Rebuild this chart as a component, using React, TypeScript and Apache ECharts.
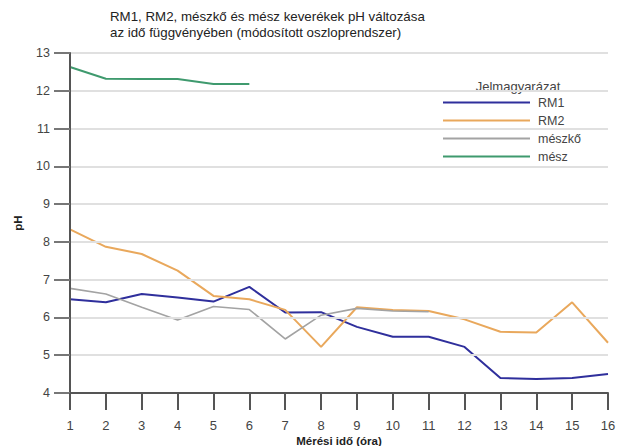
import React, { useEffect, useRef } from "react";
import * as echarts from "echarts";

const hours = ["1", "2", "3", "4", "5", "6", "7", "8", "9", "10", "11", "12", "13", "14", "15", "16"];
const phTicks = [4, 5, 6, 7, 8, 9, 10, 11, 12, 13];
const rm1 = [6.48, 6.4, 6.62, 6.53, 6.42, 6.81, 6.13, 6.14, 5.75, 5.49, 5.49, 5.22, 4.4, 4.37, 4.4, 4.5];
const rm2 = [8.33, 7.87, 7.68, 7.24, 6.57, 6.48, 6.2, 5.22, 6.27, 6.2, 6.17, 5.95, 5.62, 5.6, 6.4, 5.33];
const meszko = [6.77, 6.62, 6.27, 5.93, 6.29, 6.21, 5.43, 6.06, 6.24, 6.17, 6.15];
const mesz = [12.63, 12.32, 12.31, 12.31, 12.18, 12.18];
const titleLines = [
  "RM1, RM2, mészkő és mész keverékek pH változása",
  "az idő függvényében (módosított oszloprendszer)",
];

const FONT = "'Liberation Sans', Arial, sans-serif";
const Y_MIN = phTicks[0];
const Y_MAX = phTicks[phTicks.length - 1];

export default function App() {
  const ref = useRef<HTMLDivElement>(null);
  useEffect(() => {
    const chart = echarts.init(ref.current!, null, { renderer: "svg" });
    const mk = (name: string, data: number[], color: string, width: number) => ({
      name,
      type: "line",
      data,
      symbol: "none",
      showSymbol: false,
      lineStyle: { color, width },
      itemStyle: { color },
      z: 3,
    });
    chart.setOption({
      animation: false,
      backgroundColor: "#ffffff",
      textStyle: { fontFamily: FONT },
      graphic: [
        {
          type: "text",
          left: 110,
          top: 8,
          style: {
            text: titleLines.join("\n"),
            fontFamily: FONT,
            fontSize: 13.3,
            lineHeight: 16,
            fill: "#222",
          },
        },
        {
          type: "text",
          x: 518,
          y: 86,
          style: {
            text: "Jelmagyarázat",
            fontFamily: FONT,
            fontSize: 13,
            fill: "#444",
            align: "center",
            verticalAlign: "middle",
          },
        },
      ],
      legend: {
        orient: "vertical",
        left: 443,
        top: 96,
        padding: 0,
        icon: "rect",
        itemWidth: 87,
        itemHeight: 2,
        itemGap: 5,
        textStyle: { fontFamily: FONT, fontSize: 12.5, color: "#444", padding: [0, 0, 0, 3] },
        data: ["RM1", "RM2", "mészkő", "mész"],
      },
      grid: { left: 70, right: 9, top: 53, bottom: 53, containLabel: false, outerBoundsMode: "none" },
      xAxis: {
        type: "category",
        data: hours,
        boundaryGap: false,
        name: "Mérési idő (óra)",
        nameLocation: "middle",
        nameGap: 42,
        nameMoveOverlap: false,
        nameTextStyle: { fontFamily: FONT, fontSize: 11.5, fontWeight: "bold", color: "#222" },
        axisLine: { show: true, lineStyle: { color: "#555", width: 2 } },
        axisTick: { show: true, interval: 0, inside: false, length: 17, lineStyle: { color: "#555", width: 2 } },
        axisLabel: { margin: 26, fontFamily: FONT, fontSize: 13, color: "#444" },
        splitLine: { show: false },
        z: 5,
      },
      yAxis: {
        type: "value",
        min: Y_MIN,
        max: Y_MAX,
        interval: 1,
        name: "pH",
        nameLocation: "middle",
        nameGap: 46,
        nameMoveOverlap: false,
        nameTextStyle: { fontFamily: FONT, fontSize: 11.5, fontWeight: "bold", color: "#222" },
        axisLine: { show: true, lineStyle: { color: "#555", width: 2 } },
        axisTick: { show: true, inside: false, length: 16, lineStyle: { color: "#777", width: 2 } },
        axisLabel: { margin: 20, fontFamily: FONT, fontSize: 12.5, color: "#444" },
        splitLine: { show: true, lineStyle: { color: "#e0e0e0", width: 2 } },
        z: 5,
      },
      series: [
        mk("RM1", rm1, "#2f2f9c", 2),
        mk("RM2", rm2, "#e9a85c", 2),
        mk("mészkő", meszko, "#a3a3a3", 1.6),
        mk("mész", mesz, "#3f9a6e", 2),
      ],
    });
    return () => chart.dispose();
  }, []);
  return <div ref={ref} style={{ width: 617, height: 446, position: "absolute", left: 0, top: 0 }} />;
}
